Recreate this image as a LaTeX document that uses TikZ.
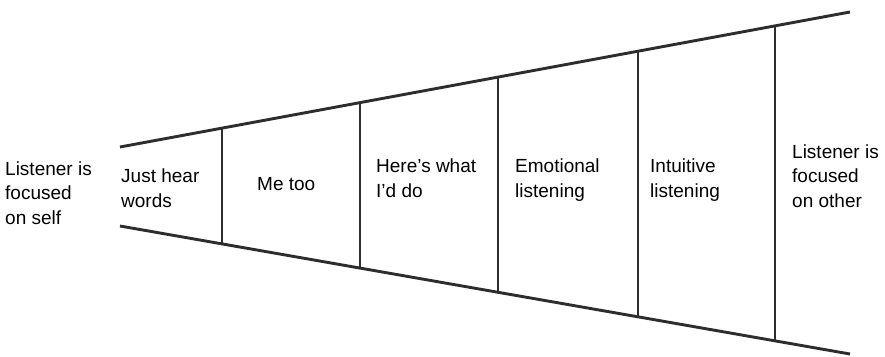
\documentclass[tikz,border=0pt]{standalone}
\usepackage{fontspec}
\setmainfont{Liberation Sans}
\definecolor{rimgray}{RGB}{45,45,45}
\usetikzlibrary{positioning}

\begin{document}
\begin{tikzpicture}[x=1pt, y=-1pt,
      rim/.style={draw=rimgray, line width=2.9pt},
      wall/.style={draw=rimgray, line width=2.7pt},
      stage/.style={align=left, anchor=west, inner sep=0pt, text=black,
                    font=\fontsize{19}{24.5}\selectfont}]
    \useasboundingbox (0,0) rectangle (885,356);
    % funnel outline
    \coordinate (tl) at (120,147);
    \coordinate (tr) at (850,12);
    \coordinate (bl) at (120,226);
    \coordinate (br) at (850,354);
    \draw[rim] (tl) -- (tr);
    \draw[rim] (bl) -- (br);
    % dividers
    \path (tl) -- (tr) coordinate[pos=0.1397] (t1) coordinate[pos=0.3288] (t2)
          coordinate[pos=0.5178] (t3) coordinate[pos=0.7096] (t4) coordinate[pos=0.8973] (t5);
    \path (bl) -- (br) coordinate[pos=0.1397] (b1) coordinate[pos=0.3288] (b2)
          coordinate[pos=0.5178] (b3) coordinate[pos=0.7096] (b4) coordinate[pos=0.8973] (b5);
    \draw[wall] (t1) -- (b1);
    \draw[wall] (t2) -- (b2);
    \draw[wall] (t3) -- (b3);
    \draw[wall] (t4) -- (b4);
    \draw[wall] (t5) -- (b5);
    % stages
    \node[stage] (self) at (5,193) {Listener is\\ focused\\ on self};
    \node[stage] (hear) at (121,188) {Just hear\\ words};
    \node[stage] (metoo) at (257,184) {Me too};
    \node[stage] (whatido) at (376,178) {Here's what\\ I'd do};
    \node[stage] (emo) at (515,180) {Emotional\\ listening};
    \node[stage] (intu) at (650,180) {Intuitive\\ listening};
    \node[stage] (other) at (792,176) {Listener is\\ focused\\ on other};
\end{tikzpicture}
\end{document}
